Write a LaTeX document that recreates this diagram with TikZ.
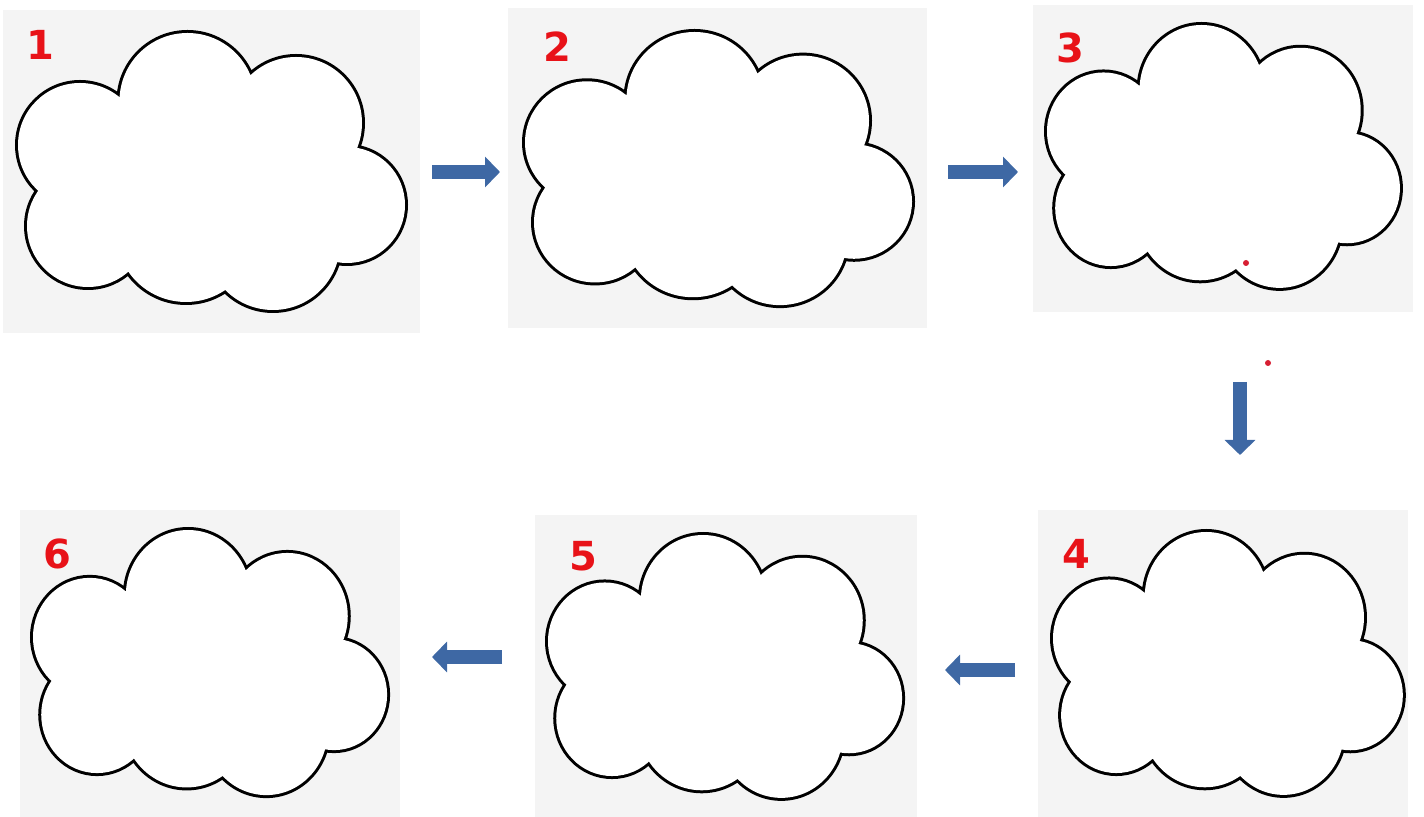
\documentclass[tikz,border=0pt]{standalone}
\usepackage{fontspec}
\setmainfont{Liberation Sans}
\newfontfamily\numfont{DejaVu Sans}
\usetikzlibrary{arrows.meta}
\definecolor{panelgray}{RGB}{244,244,244}
\definecolor{numred}{RGB}{232,18,24}
\definecolor{arrowblue}{RGB}{62,104,164}
\definecolor{dotred}{RGB}{215,30,50}
\tikzset{
  panel/.style={rectangle, fill=panelgray, draw=none, inner sep=0pt},
  cloudstroke/.style={draw=black, line width=3pt},
  cloudfill/.style={fill=white, draw=none},
  numlabel/.style={text=numred, font=\numfont\fontsize{20}{20}\selectfont\bfseries, inner sep=0pt},
  blockarrow/.style={draw=arrowblue, line width=7pt, -{Triangle[width=15pt,length=7.5pt]}},
  reddot/.style={circle, fill=dotred, inner sep=0pt, minimum size=3pt}
}
% cloud as union of circles (coordinates of panel 1, shifted to other panels)
\newcommand\cloudcircles[1]{%
  \path[#1] (80,145) circle[radius=62] (187.5,101) circle[radius=68]
    (296,123) circle[radius=66] (347,205) circle[radius=58]
    (273,243) circle[radius=67] (186,232) circle[radius=70]
    (88,226) circle[radius=61];}
\newcommand\drawcloud[4]{%
  \begin{scope}[shift={(#1,#2)}, xscale=#3, yscale=#4, shift={(-18,-33)}]
    \cloudcircles{cloudstroke}
    \cloudcircles{cloudfill}
    \path[cloudfill] (80,145) -- (187.5,101) -- (296,123) -- (347,205) -- (273,243)
      -- (186,232) -- (88,226) -- cycle;
  \end{scope}}
\begin{document}
\begin{tikzpicture}[x=0.5pt,y=-0.5pt]
\useasboundingbox (0,0) rectangle (1424,817);
% panels
\node[panel, minimum width=208.5pt, minimum height=161.5pt] (p1) at (211.5,171.5) {};
\node[panel, minimum width=209.5pt, minimum height=160pt] (p2) at (717.5,168) {};
\node[panel, minimum width=190pt, minimum height=153.5pt] (p3) at (1223,158.5) {};
\node[panel, minimum width=185pt, minimum height=153.5pt] (p4) at (1223,663.5) {};
\node[panel, minimum width=191pt, minimum height=151pt] (p5) at (726,666) {};
\node[panel, minimum width=190pt, minimum height=153.5pt] (p6) at (210,663.5) {};
% clouds
\drawcloud{18}{33}{1}{1}
\drawcloud{525}{32}{1.0}{0.986}
\drawcloud{1047}{25}{0.912}{0.949}
\drawcloud{1053}{532}{0.904}{0.949}
\drawcloud{548}{535}{0.915}{0.949}
\drawcloud{33}{530}{0.915}{0.957}
% numbers
\node[numlabel] (n1) at (40,45) {1};
\node[numlabel] (n2) at (557,47) {2};
\node[numlabel] (n3) at (1070,48) {3};
\node[numlabel] (n4) at (1076,554) {4};
\node[numlabel] (n5) at (583,556) {5};
\node[numlabel] (n6) at (57,554) {6};
% arrows
\coordinate (a12s) at (432,172); \coordinate (a12e) at (500,172);
\coordinate (a23s) at (948,172); \coordinate (a23e) at (1018,172);
\coordinate (a34s) at (1240,382); \coordinate (a34e) at (1240,455);
\coordinate (a45s) at (1015,670); \coordinate (a45e) at (945,670);
\coordinate (a56s) at (502,657); \coordinate (a56e) at (432,657);
\draw[blockarrow] (a12s) -- (a12e);
\draw[blockarrow] (a23s) -- (a23e);
\draw[blockarrow] (a34s) -- (a34e);
\draw[blockarrow] (a45s) -- (a45e);
\draw[blockarrow] (a56s) -- (a56e);
% red dots
\node[reddot] (d1) at (1246,263) {};
\node[reddot] (d2) at (1268,363) {};
\end{tikzpicture}
\end{document}
